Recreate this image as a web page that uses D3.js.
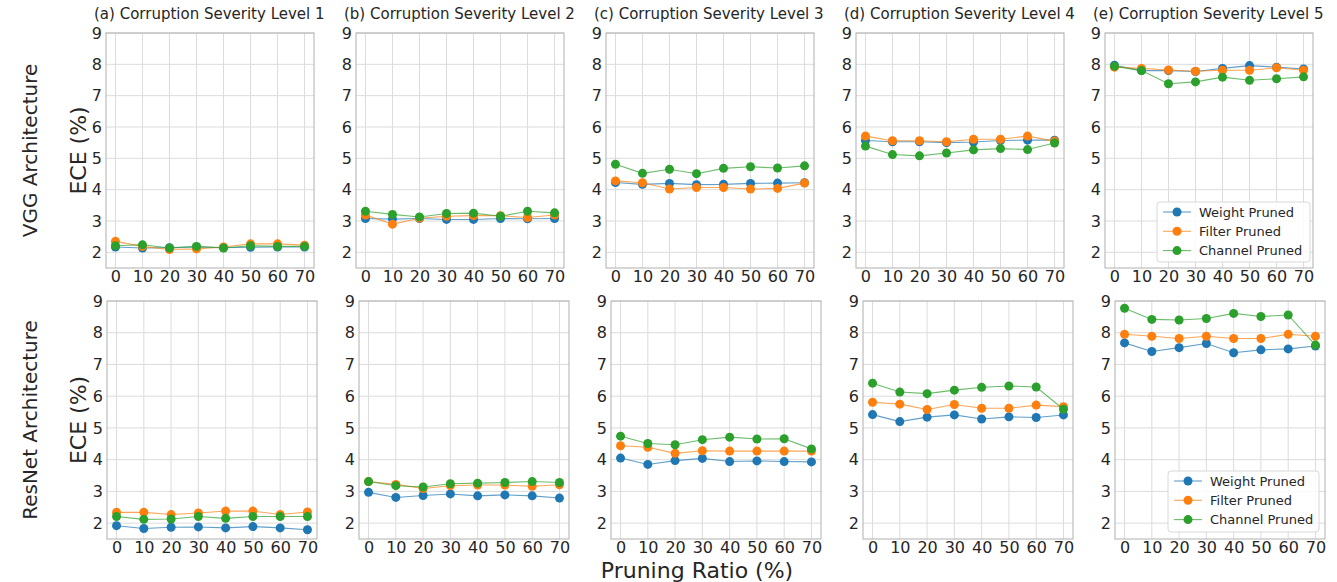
<!DOCTYPE html>
<html>
<head>
<meta charset="utf-8">
<style>
  body { margin: 0; background: #fff; }
  svg text { font-family: "DejaVu Sans", sans-serif; fill: #262626; }
</style>
</head>
<body>
<div id="chart"></div>
<script src="https://cdn.jsdelivr.net/npm/d3@7"></script>
<script>
var ratios = [0, 10, 20, 30, 40, 50, 60, 70];
var yTicks = [2, 3, 4, 5, 6, 7, 8, 9];
var levelTitles = ["(a) Corruption Severity Level 1", "(b) Corruption Severity Level 2",
  "(c) Corruption Severity Level 3", "(d) Corruption Severity Level 4", "(e) Corruption Severity Level 5"];
var seriesNames = ["Weight Pruned", "Filter Pruned", "Channel Pruned"];
var seriesColors = ["#1f77b4", "#ff7f0e", "#2ca02c"];
var rowLabels = ["VGG Architecture", "ResNet Architecture"];

// one inner array per severity level, values at each pruning ratio
var vggWeight = [
  [2.17, 2.14, 2.15, 2.17, 2.15, 2.16, 2.17, 2.17],
  [3.08, 3.06, 3.08, 3.05, 3.05, 3.08, 3.07, 3.08],
  [4.23, 4.17, 4.20, 4.16, 4.17, 4.20, 4.21, 4.22],
  [5.57, 5.53, 5.53, 5.50, 5.52, 5.57, 5.58, 5.58],
  [7.97, 7.80, 7.80, 7.77, 7.87, 7.96, 7.91, 7.85]
];
var vggFilter = [
  [2.35, 2.19, 2.09, 2.11, 2.17, 2.27, 2.27, 2.23],
  [3.19, 2.90, 3.09, 3.15, 3.17, 3.17, 3.11, 3.19],
  [4.28, 4.22, 4.02, 4.07, 4.07, 4.02, 4.04, 4.21],
  [5.71, 5.56, 5.56, 5.53, 5.61, 5.61, 5.71, 5.55],
  [7.91, 7.87, 7.82, 7.78, 7.81, 7.81, 7.89, 7.81]
];
var vggChannel = [
  [2.21, 2.24, 2.14, 2.19, 2.14, 2.21, 2.19, 2.19],
  [3.31, 3.21, 3.13, 3.24, 3.25, 3.15, 3.31, 3.26],
  [4.81, 4.52, 4.65, 4.51, 4.68, 4.73, 4.69, 4.76],
  [5.39, 5.12, 5.08, 5.17, 5.27, 5.31, 5.28, 5.49],
  [7.94, 7.80, 7.38, 7.44, 7.59, 7.49, 7.54, 7.60]
];
var resnetWeight = [
  [1.92, 1.83, 1.87, 1.88, 1.85, 1.89, 1.85, 1.79],
  [2.97, 2.81, 2.87, 2.92, 2.86, 2.89, 2.86, 2.79],
  [4.05, 3.85, 3.97, 4.04, 3.94, 3.96, 3.94, 3.93],
  [5.42, 5.20, 5.34, 5.41, 5.28, 5.35, 5.33, 5.41],
  [7.68, 7.41, 7.53, 7.66, 7.37, 7.46, 7.49, 7.58]
];
var resnetFilter = [
  [2.34, 2.34, 2.27, 2.32, 2.38, 2.38, 2.27, 2.35],
  [3.31, 3.22, 3.09, 3.18, 3.20, 3.20, 3.16, 3.21],
  [4.44, 4.39, 4.20, 4.28, 4.27, 4.27, 4.27, 4.27],
  [5.81, 5.75, 5.58, 5.74, 5.62, 5.62, 5.72, 5.67],
  [7.95, 7.89, 7.82, 7.89, 7.82, 7.82, 7.95, 7.89]
];
var resnetChannel = [
  [2.21, 2.12, 2.13, 2.21, 2.15, 2.21, 2.21, 2.21],
  [3.31, 3.18, 3.14, 3.24, 3.26, 3.28, 3.31, 3.28],
  [4.74, 4.51, 4.47, 4.63, 4.71, 4.65, 4.66, 4.34],
  [6.41, 6.13, 6.08, 6.19, 6.28, 6.32, 6.29, 5.59],
  [8.77, 8.42, 8.40, 8.45, 8.61, 8.51, 8.56, 7.61]
];

var W = 1337, H = 582;
var svg = d3.select("#chart").append("svg").attr("width", W).attr("height", H);

// panel boxes for each row
var rows = [
  { data: [vggWeight, vggFilter, vggChannel], lefts: [106, 356, 606, 856, 1105], width: 208, top: 33, bottom: 268,
    legend: { x: 1157, y: 202, w: 153, h: 60 } },
  { data: [resnetWeight, resnetFilter, resnetChannel], lefts: [107, 359, 611, 863, 1115], width: 210, top: 301, bottom: 539,
    legend: { x: 1168, y: 471, w: 151, h: 61 } }
];

rows.forEach(function (row, ri) {
  var y = d3.scaleLinear().domain([1.5, 9]).range([row.bottom, row.top]);

  row.lefts.forEach(function (left, li) {
    var x = d3.scaleLinear().domain([-3.5, 73.5]).range([left, left + row.width]);
    var g = svg.append("g");

    // grid
    g.selectAll(".gx").data(ratios).enter().append("line")
      .attr("x1", function (d) { return x(d); }).attr("x2", function (d) { return x(d); })
      .attr("y1", row.top).attr("y2", row.bottom)
      .attr("stroke", "#dcdcdc").attr("stroke-width", 1);
    g.selectAll(".gy").data(yTicks).enter().append("line")
      .attr("x1", left).attr("x2", left + row.width)
      .attr("y1", function (d) { return y(d); }).attr("y2", function (d) { return y(d); })
      .attr("stroke", "#dcdcdc").attr("stroke-width", 1);

    // axes, no tick marks
    var xa = g.append("g").attr("transform", "translate(0," + row.bottom + ")")
      .call(d3.axisBottom(x).tickValues(ratios).tickSize(0).tickPadding(3));
    var ya = g.append("g").attr("transform", "translate(" + left + ",0)")
      .call(d3.axisLeft(y).tickValues(yTicks).tickSize(0).tickPadding(4));
    [xa, ya].forEach(function (a) {
      a.select(".domain").remove();
      a.selectAll("text").style("font-size", "16px").attr("fill", "#262626");
    });

    g.append("rect").attr("x", left).attr("y", row.top)
      .attr("width", row.width).attr("height", row.bottom - row.top)
      .attr("fill", "none").attr("stroke", "#b0b0b0").attr("stroke-width", 1);

    if (ri === 0) {
      svg.append("text").attr("x", left - 12).attr("y", 19)
        .style("font-size", "15px").text(levelTitles[li]);
    }

    var line = d3.line().x(function (d, i) { return x(ratios[i]); }).y(function (d) { return y(d); });
    row.data.forEach(function (series, si) {
      var vals = series[li];
      g.append("path").attr("d", line(vals)).attr("fill", "none")
        .attr("stroke", seriesColors[si]).attr("stroke-width", 1.1).attr("stroke-opacity", 0.7);
      g.selectAll(".pt" + si).data(vals).enter().append("circle")
        .attr("cx", function (d, i) { return x(ratios[i]); })
        .attr("cy", function (d) { return y(d); })
        .attr("r", 4.5).attr("fill", seriesColors[si]);
    });
  });

  // legend in last panel
  var L = row.legend;
  var lg = svg.append("g");
  lg.append("rect").attr("x", L.x).attr("y", L.y).attr("width", L.w).attr("height", L.h)
    .attr("rx", 3).attr("fill", "#fff").attr("fill-opacity", 0.85).attr("stroke", "#d8d8d8");
  seriesNames.forEach(function (name, si) {
    var cy = L.y + 10 + si * 19.3;
    lg.append("line").attr("x1", L.x + 6).attr("x2", L.x + 34).attr("y1", cy).attr("y2", cy)
      .attr("stroke", seriesColors[si]).attr("stroke-width", 1.1).attr("stroke-opacity", 0.7);
    lg.append("circle").attr("cx", L.x + 20).attr("cy", cy).attr("r", 4.5).attr("fill", seriesColors[si]);
    lg.append("text").attr("x", L.x + 42).attr("y", cy).attr("dy", "0.35em")
      .style("font-size", "13px").text(name);
  });

  var midY = (row.top + row.bottom) / 2;
  svg.append("text").attr("transform", "translate(78," + midY + ") rotate(-90)")
    .attr("text-anchor", "middle").attr("dy", "0.35em").style("font-size", "22px").text("ECE (%)");
  svg.append("text").attr("transform", "translate(30," + midY + ") rotate(-90)")
    .attr("text-anchor", "middle").attr("dy", "0.35em").style("font-size", "20px").text(rowLabels[ri]);
});

svg.append("text").attr("x", 697).attr("y", 578).attr("text-anchor", "middle")
  .style("font-size", "22px").text("Pruning Ratio (%)");
</script>
</body>
</html>
